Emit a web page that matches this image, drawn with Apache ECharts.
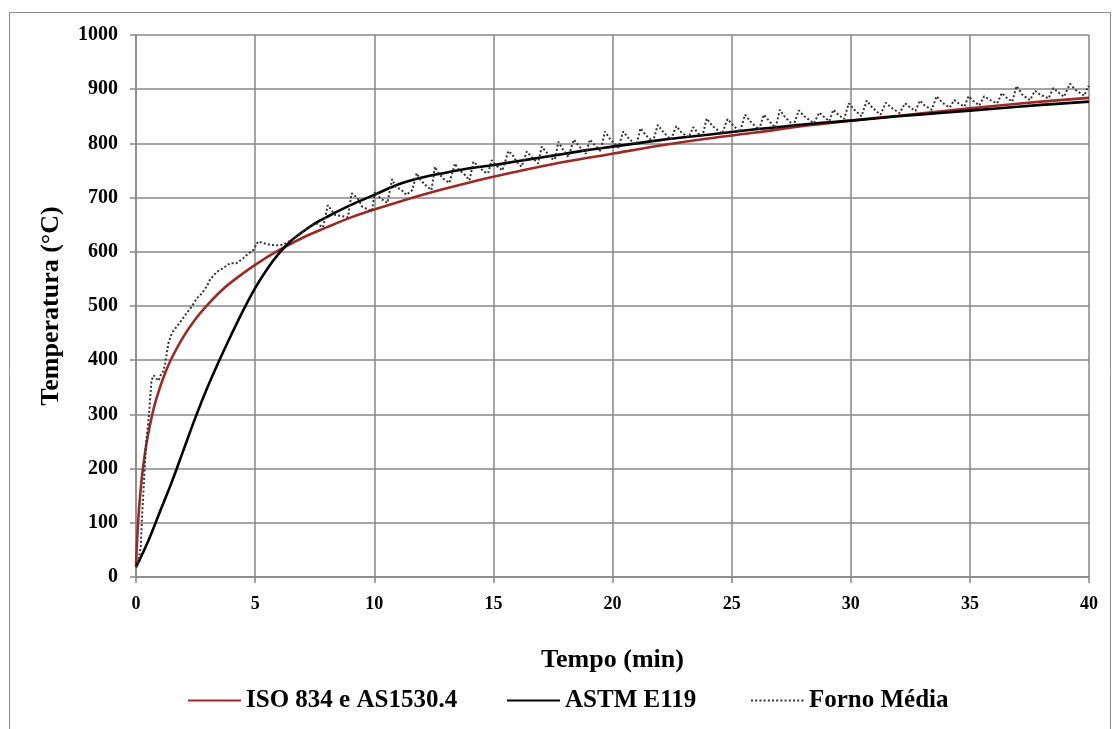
<!DOCTYPE html>
<html>
<head>
<meta charset="utf-8">
<script src="https://cdn.jsdelivr.net/npm/echarts@6/dist/echarts.min.js"></script>
<style>
  html, body { margin: 0; padding: 0; background: #fff; }
  #chart { width: 1115px; height: 729px; }
</style>
</head>
<body>
<div id="chart"></div>
<script>
// Standard fire curves and measured furnace average, time in minutes, temperature in °C
const isoTime = [0, 0.05, 0.1, 0.15, 0.25, 0.35, 0.5, 0.75, 1, 1.25, 1.5, 2, 2.5, 3, 3.5, 4, 5, 6, 7, 8, 9, 10,
  12, 14, 16, 18, 20, 22, 24, 26, 28, 30, 32, 34, 36, 38, 40];
const isoTemp = [20, 70, 108, 138, 185, 220, 261, 312, 349, 379, 404, 444, 476, 502, 525, 544, 576, 603, 626, 645, 663, 678,
  705, 728, 748, 766, 781, 796, 809, 820, 832, 842, 851, 860, 869, 877, 884];

const astmTime = [0, 0.5, 1, 1.5, 2, 2.5, 3, 3.5, 4, 4.5, 5, 5.5, 6, 6.5, 7, 7.5, 8, 9, 10, 11, 12, 13, 14, 15,
  16, 17, 18, 19, 20, 22, 24, 26, 28, 30, 32, 34, 36, 38, 40];
const astmTemp = [18, 65, 120, 175, 235, 295, 350, 400, 447, 492, 533, 568, 597, 620, 637, 652, 664, 686, 705, 724, 737, 746, 754, 760,
  767, 774, 781, 788, 794, 806, 816, 826, 835, 842, 850, 857, 864, 871, 877];

const fornoTime = [0, 0.08, 0.2, 0.26, 0.34, 0.41, 0.55, 0.65, 0.75, 0.85, 0.95, 1.05, 1.15, 1.22, 1.36, 1.5, 1.71, 1.92,
  2.13, 2.34, 2.55, 2.76, 2.97, 3.1, 3.39, 3.66, 3.95, 4.22, 4.5, 4.72, 4.92, 5.13, 5.34, 5.62, 5.9, 6.18, 6.45, 6.8,
  7.1, 7.4, 7.6, 7.85, 8.05, 8.35, 8.9, 9.05, 9.3, 9.5, 9.9, 10.03, 10.25, 10.55, 10.75, 10.9, 11.15, 11.35, 11.6,
  11.78, 11.95, 12.15, 12.4, 12.55, 12.65, 12.9, 13.15, 13.39, 13.5, 13.8, 14.0, 14.16, 14.4, 14.6, 14.78, 14.93,
  15.1, 15.38, 15.63, 15.8, 15.98, 16.18, 16.4, 16.6, 16.88, 17.03, 17.2, 17.45, 17.58, 17.73, 17.9, 18.15, 18.38,
  18.6, 18.88, 19.05, 19.25, 19.5, 19.68, 19.9, 20.25, 20.45, 20.7, 21.0, 21.18, 21.4, 21.7, 21.9, 22.15, 22.45,
  22.68, 22.9, 23.2, 23.39, 23.6, 23.78, 23.95, 24.2, 24.6, 24.83, 25.05, 25.35, 25.56, 25.8, 26.15, 26.35, 26.6,
  26.85, 27.02, 27.25, 27.6, 27.82, 28.05, 28.45, 28.68, 28.9, 29.1, 29.27, 29.5, 29.72, 29.92, 30.15, 30.45, 30.67,
  30.9, 31.25, 31.47, 31.7, 32.05, 32.28, 32.5, 32.72, 32.9, 33.1, 33.4, 33.6, 33.85, 34.15, 34.35, 34.55, 34.77,
  34.94, 35.15, 35.4, 35.6, 35.85, 36.15, 36.34, 36.55, 36.78, 36.96, 37.2, 37.52, 37.73, 37.95, 38.3, 38.5, 38.75,
  38.95, 39.2, 39.45, 39.8, 39.97, 40];
const fornoTemp = [18, 24, 56, 118, 179, 240, 302, 363, 372, 366, 362, 374, 380, 394, 431, 450, 462, 474,
  487, 499, 514, 523, 536, 548, 563, 570, 579, 579, 588, 597, 603, 619, 616, 613, 612, 613, 620, 630,
  640, 650, 652, 645, 686, 668, 664, 708, 699, 683, 675, 711, 699, 690, 734, 720, 714, 705, 714,
  745, 732, 723, 714, 757, 748, 735, 727, 763, 754, 742, 732, 766, 757, 748, 745, 769,
  760, 750, 786, 779, 766, 757, 785, 775, 763, 794, 785, 772, 770, 803, 790, 775, 807,
  795, 781, 807, 797, 786, 822, 808, 792, 822, 808, 798, 828, 815, 803, 834, 820, 807,
  832, 820, 811, 830, 818, 814, 846, 832, 818, 845, 834, 821, 853, 840, 825, 853, 840,
  829, 862, 848, 833, 861, 850, 837, 857, 848, 841, 862, 852, 845, 874, 862, 850, 879,
  866, 853, 875, 866, 856, 874, 866, 860, 879, 870, 862, 887, 875, 866, 880, 873, 868,
  887, 878, 870, 887, 880, 874, 893, 884, 877, 906, 890, 880, 897, 890, 883, 902, 893,
  886, 910, 898, 888, 906, 904];

const xTicks = { min: 0, max: 40, interval: 5 };
const yTicks = { min: 0, max: 1000, interval: 100 };

const pairs = (xs, ys) => xs.map((x, i) => [x, ys[i]]);

const FONT = 'Liberation Serif';
const GRID_GREY = '#878787';

const chart = echarts.init(document.getElementById('chart'), null, { renderer: 'canvas' });

const legendText = { fontFamily: FONT, fontWeight: 'bold', fontSize: 25, color: '#000' };
function legendAt(name, left) {
  return {
    data: [name], left: left, top: 688, itemWidth: 53, itemHeight: 14, itemGap: 0,
    padding: 0, textStyle: legendText,
    itemStyle: { opacity: 0 }
  };
}

chart.setOption({
  animation: false,
  backgroundColor: '#fff',
  graphic: [{
    type: 'rect',
    shape: { x: 9.5, y: 12.5, width: 1101, height: 730 },
    style: { fill: 'none', stroke: '#8c8c8c', lineWidth: 1 },
    silent: true
  }],
  grid: { left: 136, right: 26, top: 35, bottom: 152, containLabel: false },
  legend: [
    legendAt('ISO 834 e AS1530.4', 187),
    legendAt('ASTM E119', 506),
    legendAt('Forno Média', 750)
  ],
  xAxis: {
    type: 'value', min: xTicks.min, max: xTicks.max, interval: xTicks.interval,
    name: 'Tempo (min)', nameLocation: 'middle', nameGap: 70,
    nameTextStyle: { fontFamily: FONT, fontWeight: 'bold', fontSize: 26, color: '#000' },
    axisLine: { show: true, lineStyle: { color: GRID_GREY, width: 1.5 } },
    axisTick: { show: true, inside: false, length: 6, lineStyle: { color: GRID_GREY, width: 1.5 } },
    axisLabel: { margin: 18, fontFamily: FONT, fontWeight: 'bold', fontSize: 18, color: '#000',
      formatter: v => String(v) },
    splitLine: { show: true, lineStyle: { color: GRID_GREY, width: 1.5 } }
  },
  yAxis: {
    type: 'value', min: yTicks.min, max: yTicks.max, interval: yTicks.interval,
    name: 'Temperatura (°C)', nameLocation: 'middle', nameGap: 72, nameRotate: 90,
    nameTextStyle: { fontFamily: FONT, fontWeight: 'bold', fontSize: 26, color: '#000' },
    axisLine: { show: true, lineStyle: { color: GRID_GREY, width: 1.5 } },
    axisTick: { show: true, inside: false, length: 6, lineStyle: { color: GRID_GREY, width: 1.5 } },
    axisLabel: { margin: 18, fontFamily: FONT, fontWeight: 'bold', fontSize: 20, color: '#000',
      formatter: v => String(v) },
    splitLine: { show: true, lineStyle: { color: GRID_GREY, width: 1.5 } }
  },
  series: [
    {
      name: 'ISO 834 e AS1530.4', type: 'line', data: pairs(isoTime, isoTemp),
      symbol: 'none', smooth: 0.35,
      lineStyle: { color: '#992b27', width: 2.6 }, itemStyle: { color: '#992b27' }
    },
    {
      name: 'ASTM E119', type: 'line', data: pairs(astmTime, astmTemp),
      symbol: 'none', smooth: 0.35,
      lineStyle: { color: '#000', width: 2.6 }, itemStyle: { color: '#000' }
    },
    {
      name: 'Forno Média', type: 'line', data: pairs(fornoTime, fornoTemp),
      symbol: 'none',
      lineStyle: { color: '#333', width: 2, type: [2, 2.2] }, itemStyle: { color: '#333' }
    }
  ]
});
</script>
</body>
</html>
